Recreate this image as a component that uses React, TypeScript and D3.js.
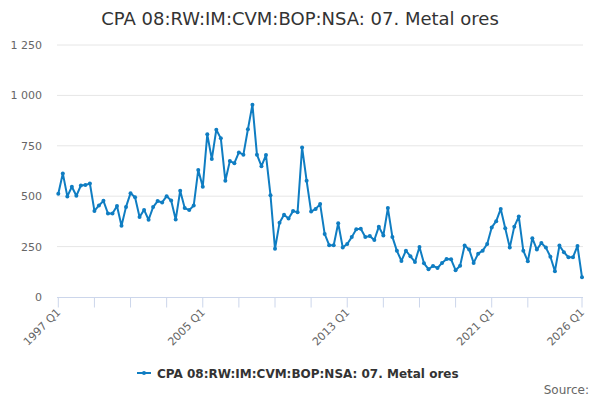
import * as d3 from 'd3'

const seriesName = 'CPA 08:RW:IM:CVM:BOP:NSA: 07. Metal ores'
const startYear = 1997

// quarterly values, 1997 Q1 .. 2026 Q1
const values = [
  512, 613, 499, 547, 502, 553, 555, 563, // 1997-1998
  427, 454, 477, 414, 414, 451, 353, 447, // 1999-2000
  515, 495, 397, 432, 383, 446, 476, 469, // 2001-2002
  500, 479, 384, 527, 441, 431, 454, 630, // 2003-2004
  547, 807, 684, 830, 787, 577, 674, 664, // 2005-2006
  717, 706, 832, 954, 706, 649, 704, 505, // 2007-2008
  239, 368, 408, 389, 426, 421, 742, 577, // 2009-2010
  424, 437, 461, 313, 257, 257, 366, 246, // 2011-2012
  263, 297, 336, 338, 298, 302, 283, 349, // 2013-2014
  305, 441, 298, 229, 179, 230, 202, 174, // 2015-2016
  248, 167, 138, 154, 144, 169, 189, 187, // 2017-2018
  133, 155, 255, 236, 169, 215, 230, 263, // 2019-2020
  345, 376, 437, 341, 245, 349, 399, 230, // 2021-2022
  177, 292, 235, 268, 245, 200, 128, 255, // 2023-2024
  222, 197, 197, 253, 98,                 // 2025-2026 Q1
]

const yTicks = [0, 250, 500, 750, 1000, 1250]
const tickIdx = [0, 8, 16, 24, 32, 40, 48, 56, 64, 72, 80, 88, 96, 104, 116]
const labelIdx = [0, 32, 64, 96, 116]

const W = 600
const H = 400
const font = '"DejaVu Sans", sans-serif'

export default function App() {
  const labels = values.map((_, i) => `${startYear + Math.floor(i / 4)} Q${(i % 4) + 1}`)

  const x = d3.scaleLinear().domain([0, values.length - 1]).range([58.3, 582])
  const y = d3.scaleLinear().domain([0, 1250]).range([297, 45])

  const line = d3.line<number>()
    .x((_, i) => x(i))
    .y(d => y(d))

  const fmt = (v: number) => d3.format(',')(v).replace(',', ' ')
  const blue = '#0f7dc2'

  return (
    <svg width={W} height={H} style={{ position: 'absolute', left: 0, top: 0, fontFamily: font }}>
      <rect width={W} height={H} fill="#fff" />
      <text x={W / 2} y={25} textAnchor="middle" fontSize={18} fill="#333">{seriesName}</text>

      {yTicks.map(t => (
        <g key={t}>
          {t > 0 && <line x1={57} x2={583} y1={y(t)} y2={y(t)} stroke="#e6e6e6" />}
          <text x={42} y={y(t) + 4} textAnchor="end" fontSize={11} fill="#666">{fmt(t)}</text>
        </g>
      ))}

      <line x1={57} x2={583} y1={297.5} y2={297.5} stroke="#ccd6eb" />
      {tickIdx.map(i => (
        <line key={i} x1={x(i)} x2={x(i)} y1={297.5} y2={307.5} stroke="#ccd6eb" />
      ))}
      {labelIdx.map(i => (
        <text key={i} transform={`translate(${x(i) + 3},${313}) rotate(-45)`} textAnchor="end"
          fontSize={11} fill="#666">{labels[i]}</text>
      ))}

      <path d={line(values) ?? ''} fill="none" stroke={blue} strokeWidth={2} strokeLinejoin="round" />
      {values.map((v, i) => (
        <circle key={i} cx={x(i)} cy={y(v)} r={2} fill={blue} />
      ))}

      <g transform="translate(137,373)">
        <line x1={0} x2={14} y1={0} y2={0} stroke={blue} strokeWidth={2} />
        <circle cx={7} cy={0} r={2} fill={blue} />
        <text x={20} y={4.5} fontSize={12} fontWeight="bold" fill="#333">{seriesName}</text>
      </g>

      <text x={589} y={394} textAnchor="end" fontSize={12} fill="#666">Source:</text>
    </svg>
  )
}
